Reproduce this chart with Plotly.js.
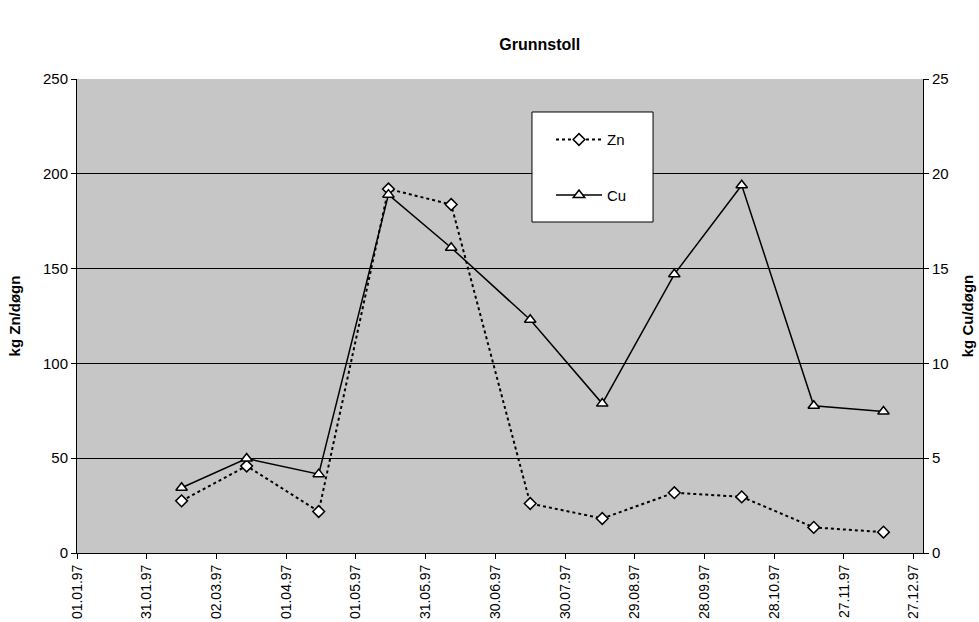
<!DOCTYPE html>
<html>
<head>
<meta charset="utf-8">
<script src="https://cdn.plot.ly/plotly-3.0.1.min.js"></script>
<style>html,body{margin:0;padding:0;background:#fff;}#chart{width:979px;height:622px;}</style>
</head>
<body>
<div id="chart"></div>
<script>
// Data
const dates = ['1997-02-15','1997-03-15','1997-04-15','1997-05-15','1997-06-11','1997-07-15','1997-08-15','1997-09-15','1997-10-14','1997-11-14','1997-12-14'];
const zn = [27.5, 45.9, 21.9, 192, 183.8, 26.1, 18.2, 31.8, 29.6, 13.5, 11.0];
const cu = [3.44, 4.98, 4.16, 18.9, 16.1, 12.3, 7.88, 14.7, 19.4, 7.77, 7.46];
const titleText = 'Grunnstoll';
const yLeftTitle = 'kg Zn/døgn';
const yRightTitle = 'kg Cu/døgn';

const FONT = 'Liberation Sans, Arial, sans-serif';

const traces = [
  {
    x: dates, y: zn, name: 'Zn', type: 'scatter', mode: 'lines+markers',
    yaxis: 'y', legendgroup: 'zn',
    line: {color: '#000', width: 2, dash: 'dot'},
    marker: {symbol: 'diamond', size: 9, color: '#fff', line: {color: '#000', width: 1.5}}
  },
  {
    x: dates, y: cu, name: 'Cu', type: 'scatter', mode: 'lines+markers',
    yaxis: 'y2', legendgroup: 'cu',
    line: {color: '#000', width: 1.5},
    marker: {symbol: 'triangle-up', size: 10, color: '#fff', line: {color: '#000', width: 1.5}}
  }
];

const layout = {
  width: 979, height: 622,
  margin: {l: 77, r: 56, t: 79, b: 69, pad: 0},
  paper_bgcolor: '#ffffff',
  plot_bgcolor: '#c6c6c6',
  font: {family: FONT, color: '#000', size: 14},
  title: {
    text: '<b>' + titleText + '</b>',
    font: {family: FONT, size: 16, color: '#000'},
    xref: 'paper', x: 0.547, xanchor: 'center',
    yref: 'container', y: 1 - 44/622, yanchor: 'middle'
  },
  showlegend: true,
  legend: {
    x: 0.5603, xanchor: 'left', y: 0.9066, yanchor: 'top',
    bgcolor: 'rgba(0,0,0,0)', borderwidth: 0,
    font: {family: FONT, size: 15, color: '#000'},
    traceorder: 'grouped', tracegroupgap: 33, itemwidth: 46
  },
  xaxis: {
    type: 'date',
    range: ['1997-01-01', '1997-12-31'],
    tick0: '1997-01-01', dtick: 30 * 86400000,
    tickformat: '%d.%m.%y', tickangle: -90,
    ticks: 'outside', ticklen: 5, tickcolor: '#000',
    showgrid: false, zeroline: false,
    showline: true, linecolor: '#000', linewidth: 1,
    tickfont: {family: FONT, size: 14, color: '#000'},
    fixedrange: true
  },
  yaxis: {
    range: [0, 250], dtick: 50, tick0: 0,
    ticks: 'outside', ticklen: 5, tickcolor: '#000',
    showgrid: true, gridcolor: '#000', gridwidth: 1,
    zeroline: false, showline: true, linecolor: '#000', linewidth: 1,
    tickfont: {family: FONT, size: 15, color: '#000'},
    title: {text: '<b>' + yLeftTitle + '</b>', font: {family: FONT, size: 15, color: '#000'}, standoff: 18},
    fixedrange: true
  },
  yaxis2: {
    range: [0, 25], dtick: 5, tick0: 0,
    overlaying: 'y', side: 'right',
    ticks: 'outside', ticklen: 5, tickcolor: '#000',
    showgrid: false, zeroline: false,
    showline: true, linecolor: '#000', linewidth: 1,
    tickfont: {family: FONT, size: 15, color: '#000'},
    title: {text: '<b>' + yRightTitle + '</b>', font: {family: FONT, size: 15, color: '#000'}, standoff: 14},
    fixedrange: true
  },
  shapes: [
    {type: 'rect', xref: 'paper', yref: 'paper', x0: 0.5378, x1: 0.6809, y0: 0.6983, y1: 0.9304,
     fillcolor: '#ffffff', line: {color: '#000', width: 1}, layer: 'above'}
  ]
};

Plotly.newPlot('chart', traces, layout, {displayModeBar: false, staticPlot: true});
</script>
</body>
</html>
